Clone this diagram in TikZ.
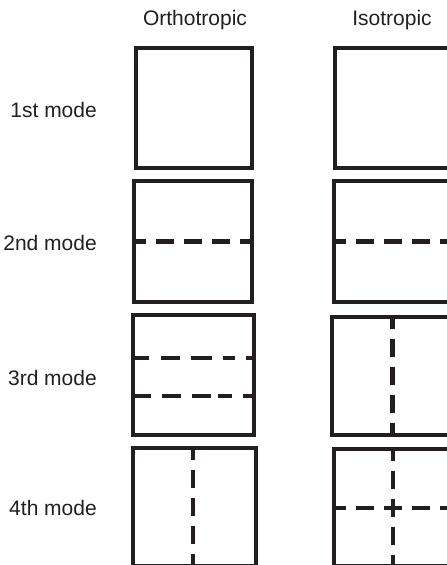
\documentclass[tikz,border=0pt]{standalone}
\usepackage{fontspec}
\setmainfont{Liberation Sans}
\definecolor{ink}{HTML}{231F20}
\begin{document}
\begin{tikzpicture}[x=1pt,y=-1pt,
  panel/.style={draw=ink, line width=3.3pt, inner sep=0pt, outer sep=0pt},
  nodal/.style={draw=ink, line width=4.8pt, dash pattern=on 18pt off 10pt, dash phase=6pt},
  lbl/.style={font=\fontsize{21}{25}\selectfont, text=ink, inner sep=0pt}]
\useasboundingbox (0,0) rectangle (447,565);
\clip (0,0) rectangle (447,565);
% column headings
\node[lbl, anchor=base] (hO) at (195,25) {Orthotropic};
\node[lbl, anchor=base] (hI) at (392,25) {Isotropic};
% row labels
\node[lbl, anchor=base east] (m1) at (97,117) {1st mode};
\node[lbl, anchor=base east] (m2) at (97,250) {2nd mode};
\node[lbl, anchor=base east] (m3) at (97,385) {3rd mode};
\node[lbl, anchor=base east] (m4) at (97,515) {4th mode};
% orthotropic panels
\node[panel, minimum width=116pt, minimum height=120pt] (o1) at (194,108) {};
\node[panel, minimum width=118pt, minimum height=121pt] (o2) at (193,241.5) {};
\node[panel, minimum width=121pt, minimum height=120pt] (o3) at (193.5,375) {};
\node[panel, minimum width=123pt, minimum height=118pt] (o4) at (194.5,507) {};
% isotropic panels
\node[panel, minimum width=117pt, minimum height=120pt] (i1) at (393.5,108) {};
\node[panel, minimum width=118pt, minimum height=121pt] (i2) at (393,241.5) {};
\node[panel, minimum width=121pt, minimum height=118pt] (i3) at (392.5,376) {};
\node[panel, minimum width=118pt, minimum height=117pt] (i4) at (393,507.5) {};
% nodal lines
\draw[nodal] (o2.west) -- (o2.east);
\draw[nodal] (i2.west) -- (i2.east);
\draw[nodal, dash pattern=on 16pt off 12pt on 19pt off 11pt on 21pt off 11pt on 12pt off 11pt on 30pt, dash phase=0pt]
  (o3.west |- 0,358) -- (o3.east |- 0,358);
\draw[nodal, dash pattern=on 18pt off 11pt on 19pt off 11pt on 19pt off 7pt on 14pt off 11pt on 30pt, dash phase=0pt]
  (o3.west |- 0,396) -- (o3.east |- 0,396);
\draw[nodal] (i3.north) -- (i3.south);
\draw[nodal] (o4.north -| 193,0) -- (o4.south -| 193,0);
\draw[nodal] (i4.north) -- (i4.south);
\draw[nodal] (i4.west |- 0,508) -- (i4.east |- 0,508);
\end{tikzpicture}
\end{document}
